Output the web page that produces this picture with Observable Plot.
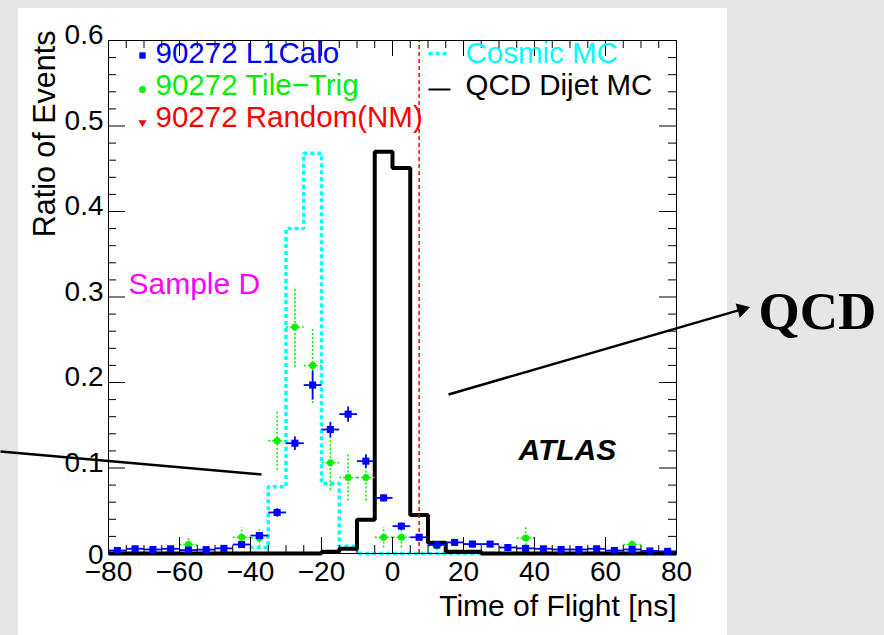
<!DOCTYPE html>
<html>
<head>
<meta charset="utf-8">
<script src="https://cdn.jsdelivr.net/npm/d3@7"></script>
<script src="https://cdn.jsdelivr.net/npm/@observablehq/plot@0.6"></script>
<style>
  html, body { margin: 0; padding: 0; background: #e6e6e6; }
  #wrap { position: relative; width: 884px; height: 635px; overflow: hidden; }
  #panel { position: absolute; left: 18px; top: 8px; width: 709px; height: 627px; background: #ffffff; }
  #chart { position: absolute; left: 0; top: 0; }
</style>
</head>
<body>
<div id="wrap"><div id="panel"></div><div id="chart"></div></div>
<script>
// ---------------- data ----------------
const binCenters = [-77.5,-72.5,-67.5,-62.5,-57.5,-52.5,-47.5,-42.5,-37.5,-32.5,-27.5,-22.5,-17.5,-12.5,-7.5,-2.5,
                    2.5,7.5,12.5,17.5,22.5,27.5,32.5,37.5,42.5,47.5,52.5,57.5,62.5,67.5,72.5,77.5];
const binHalfWidth = 2.5;

const l1caloRatio = [0.0035,0.0055,0.0047,0.0055,0.004,0.0045,0.006,0.0105,0.021,0.048,0.129,0.197,0.145,0.163,0.108,0.065,
                     0.032,0.019,0.010,0.013,0.011,0.011,0.007,0.006,0.0055,0.0047,0.0047,0.0055,0.0035,0.0047,0.003,0.0025];
const l1caloErr   = [0.002,0.002,0.002,0.002,0.002,0.002,0.002,0.003,0.004,0.005,0.008,0.017,0.009,0.009,0.008,0.004,
                     0.004,0.003,0.003,0.003,0.003,0.003,0.002,0.002,0.002,0.002,0.002,0.002,0.002,0.002,0.002,0.002];

const tileTrigRatio = [null,null,null,null,0.0105,null,null,0.019,0.018,0.132,0.265,0.22,0.106,0.089,0.089,0.019,
                       0.019,null,0.009,null,0.011,null,null,0.018,null,null,null,null,null,0.0105,null,null];
const tileTrigErr   = [null,null,null,null,0.009,null,null,0.012,0.010,0.034,0.047,0.044,0.032,0.027,0.027,0.012,
                       0.012,null,0.005,null,0.004,null,null,0.013,null,null,null,null,null,0.007,null,null];

const cosmicMC   = [0,0,0,0,0,0,0,0,0.007,0.078,0.38,0.468,0.082,0.0085,0,0,
                    0,0,0,0,0,0,0,0,0,0,0,0,0,0,0,0];
const qcdDijetMC = [0,0,0,0,0,0,0,0,0,0,0,0,0.002,0.0055,0.0394,0.47,
                    0.451,0.045,0.0125,0.002,0.002,0,0,0,0,0,0,0,0,0,0,0];

const randomNMTime = [7.5];

const xDomain = [-80, 80];
const yDomain = [0, 0.6];
const xTickValues = [-80,-60,-40,-20,0,20,40,60,80];
const yTickValues = [0,0.1,0.2,0.3,0.4,0.5,0.6];
const xMinorValues = d3.range(-75, 80, 5).filter(v => v % 20 !== 0);
const yMinorValues = d3.range(1, 30).map(k => k * 0.02).filter((v, k) => (k + 1) % 5 !== 0);

// ---------------- layout ----------------
const W = 884, H = 635, ML = 108, MR = 208, MT = 40, MB = 82;
const X = d3.scaleLinear([ML, W - MR], xDomain);   // pixel -> ns (for annotations)
const Y = d3.scaleLinear([H - MB, MT], yDomain);   // pixel -> ratio
const ux = (xDomain[1] - xDomain[0]) / (W - ML - MR);
const uy = (yDomain[1] - yDomain[0]) / (H - MT - MB);

const FONT = "'Liberation Sans', Arial, Helvetica, sans-serif";
const BLUE = "#0000ff", GREEN = "#00f000", RED = "#ff0000", CYAN = "#00ffff", MAGENTA = "#ff00ff";

const steps = vals => [
  ...binCenters.map((c, i) => ({x: c - binHalfWidth, y: vals[i]})),
  {x: binCenters[binCenters.length - 1] + binHalfWidth, y: vals[vals.length - 1]}
];
const l1calo = binCenters.map((c, i) => ({x: c, y: l1caloRatio[i], e: l1caloErr[i]}));
const tile = binCenters.map((c, i) => ({x: c, y: tileTrigRatio[i], e: tileTrigErr[i]})).filter(d => d.y != null);

const txt = (str, px, py, o = {}) =>
  Plot.text([str], {x: () => X(px), y: () => Y(py), text: d => d, textAnchor: "start", lineAnchor: "middle",
                    fontFamily: FONT, fontSize: 29.5, ...o});

// arrow annotation geometry (pixels)
const arrowFrom = [448, 394], arrowTip = [749.5, 306.5];
const adx = arrowTip[0] - arrowFrom[0], ady = arrowTip[1] - arrowFrom[1];
const alen = Math.hypot(adx, ady);
const headR = 5.5, headBack = 8.5;
const headC = [arrowTip[0] - adx / alen * headBack, arrowTip[1] - ady / alen * headBack];
const headRot = 90 + Math.atan2(ady, adx) * 180 / Math.PI;

const fmtX = d => d < 0 ? "\u2212" + (-d) : String(d);
const fmtY = d => d === 0 ? "0" : d.toFixed(1);
const dotted = {strokeLinecap: "butt", strokeDasharray: "2,2"};

const marks = [
  // histograms
  Plot.line(steps(cosmicMC), {x: "x", y: "y", curve: "step-after", stroke: CYAN, strokeWidth: 3.5, strokeDasharray: "4,3", strokeLinecap: "butt", strokeLinejoin: "miter"}),
  Plot.line(steps(qcdDijetMC), {x: "x", y: "y", curve: "step-after", stroke: "black", strokeWidth: 4, strokeLinejoin: "miter", strokeLinecap: "butt"}),
  // random (NM)
  Plot.ruleX(randomNMTime, {x: d => d, y1: yDomain[0], y2: yDomain[1], stroke: RED, strokeWidth: 1.5, strokeDasharray: "4,3", strokeLinecap: "butt"}),
  // Tile-Trig points
  Plot.link(tile, {x1: d => d.x - binHalfWidth, x2: d => d.x + binHalfWidth, y1: "y", y2: "y", stroke: GREEN, strokeWidth: 1.5, ...dotted}),
  Plot.link(tile, {x1: "x", x2: "x", y1: d => d.y - d.e, y2: d => d.y + d.e, stroke: GREEN, strokeWidth: 1.5, ...dotted}),
  Plot.dot(tile, {x: "x", y: "y", r: 3.5, fill: GREEN}),
  // L1Calo points
  Plot.link(l1calo, {x1: d => d.x - binHalfWidth, x2: d => d.x + binHalfWidth, y1: "y", y2: "y", stroke: BLUE, strokeWidth: 1.8, strokeLinecap: "butt"}),
  Plot.link(l1calo, {x1: "x", x2: "x", y1: d => Math.max(0, d.y - d.e), y2: d => d.y + d.e, stroke: BLUE, strokeWidth: 1.8, strokeLinecap: "butt"}),
  Plot.dot(l1calo, {x: "x", y: "y", symbol: "square", r: 4, fill: BLUE}),
  // ticks (inward, ROOT style)
  Plot.ruleX(xTickValues, {x: d => d, y1: yDomain[0], y2: yDomain[0] + 16 * uy, stroke: "black"}),
  Plot.ruleX(xMinorValues, {x: d => d, y1: yDomain[0], y2: yDomain[0] + 8 * uy, stroke: "black"}),
  Plot.ruleX(xTickValues, {x: d => d, y1: yDomain[1], y2: yDomain[1] - 16 * uy, stroke: "black"}),
  Plot.ruleX(xMinorValues, {x: d => d, y1: yDomain[1], y2: yDomain[1] - 8 * uy, stroke: "black"}),
  Plot.ruleY(yTickValues, {y: d => d, x1: xDomain[0], x2: xDomain[0] + 17 * ux, stroke: "black"}),
  Plot.ruleY(yMinorValues, {y: d => d, x1: xDomain[0], x2: xDomain[0] + 8 * ux, stroke: "black"}),
  Plot.ruleY(yTickValues, {y: d => d, x1: xDomain[1], x2: xDomain[1] - 17 * ux, stroke: "black"}),
  Plot.ruleY(yMinorValues, {y: d => d, x1: xDomain[1], x2: xDomain[1] - 8 * ux, stroke: "black"}),
  Plot.frame({stroke: "black", strokeWidth: 1}),
  // tick labels
  Plot.text(xTickValues, {x: d => d, y: yDomain[0], dy: 19, lineAnchor: "middle", text: fmtX, fontFamily: FONT, fontSize: 28, fill: "black"}),
  Plot.text(yTickValues.filter(v => v > 0), {y: d => d, x: xDomain[0], dx: -5, dy: -5, textAnchor: "end", lineAnchor: "middle", text: fmtY, fontFamily: FONT, fontSize: 28, fill: "black"}),
  Plot.text(yTickValues.filter(v => v === 0), {y: d => d, x: xDomain[0], dx: -5, dy: 2, textAnchor: "end", lineAnchor: "middle", text: fmtY, fontFamily: FONT, fontSize: 28, fill: "black"}),
  // axis titles
  Plot.text(["Ratio of Events"], {frameAnchor: "top-left", dx: -63, dy: -10, rotate: -90, textAnchor: "end", lineAnchor: "middle", text: d => d, fontFamily: FONT, fontSize: 30.5, fill: "black"}),
  Plot.text(["Time of Flight [ns]"], {frameAnchor: "bottom-right", dx: 0, dy: 53, textAnchor: "end", lineAnchor: "middle", text: d => d, fontFamily: FONT, fontSize: 30, fill: "black"}),
  // legend (left column)
  Plot.dot([0], {x: () => X(142), y: () => Y(55), symbol: "square", r: 3.6, fill: BLUE}),
  Plot.dot([0], {x: () => X(142), y: () => Y(89), r: 3.4, fill: GREEN}),
  Plot.dot([0], {x: () => X(142), y: () => Y(122), symbol: "triangle", r: 3, rotate: 180, fill: RED}),
  txt("90272 L1Calo", 155, 53, {fill: BLUE}),
  txt("90272 Tile\u2212Trig", 155, 85, {fill: GREEN}),
  txt("90272 Random(NM)", 155, 117, {fill: RED}),
  // legend (right column)
  Plot.link([0], {x1: () => X(428), x2: () => X(448), y1: () => Y(53), y2: () => Y(53), stroke: CYAN, strokeWidth: 3.5, strokeDasharray: "4,3", strokeLinecap: "butt"}),
  Plot.link([0], {x1: () => X(428), x2: () => X(450), y1: () => Y(89), y2: () => Y(89), stroke: "black", strokeWidth: 2, strokeLinecap: "butt"}),
  txt("Cosmic MC", 465, 53, {fill: CYAN}),
  txt("QCD Dijet MC", 465, 85, {fill: "black"}),
  // in-plot labels
  txt("Sample D", 128, 284, {fill: MAGENTA, fontSize: 30}),
  txt("ATLAS", 518, 450, {fill: "black", fontSize: 30, fontWeight: "bold", fontStyle: "italic"}),
  // annotations
  Plot.link([0], {x1: () => X(0), y1: () => Y(451), x2: () => X(261), y2: () => Y(474), stroke: "black", strokeWidth: 2.5}),
  Plot.link([0], {x1: () => X(arrowFrom[0]), y1: () => Y(arrowFrom[1]), x2: () => X(headC[0]), y2: () => Y(headC[1]), stroke: "black", strokeWidth: 2.5}),
  Plot.dot([0], {x: () => X(headC[0]), y: () => Y(headC[1]), symbol: "triangle", r: headR, rotate: headRot, fill: "black"}),
  txt("QCD", 758, 312, {fill: "black", fontFamily: "'Liberation Serif', 'Times New Roman', serif", fontSize: 53, fontWeight: "bold"})
];

const chart = Plot.plot({
  width: W, height: H,
  marginLeft: ML, marginRight: MR, marginTop: MT, marginBottom: MB,
  x: {domain: xDomain, axis: null},
  y: {domain: yDomain, axis: null},
  style: {background: "transparent", fontFamily: FONT, overflow: "visible"},
  marks
});
document.getElementById("chart").appendChild(chart);
</script>
</body>
</html>
